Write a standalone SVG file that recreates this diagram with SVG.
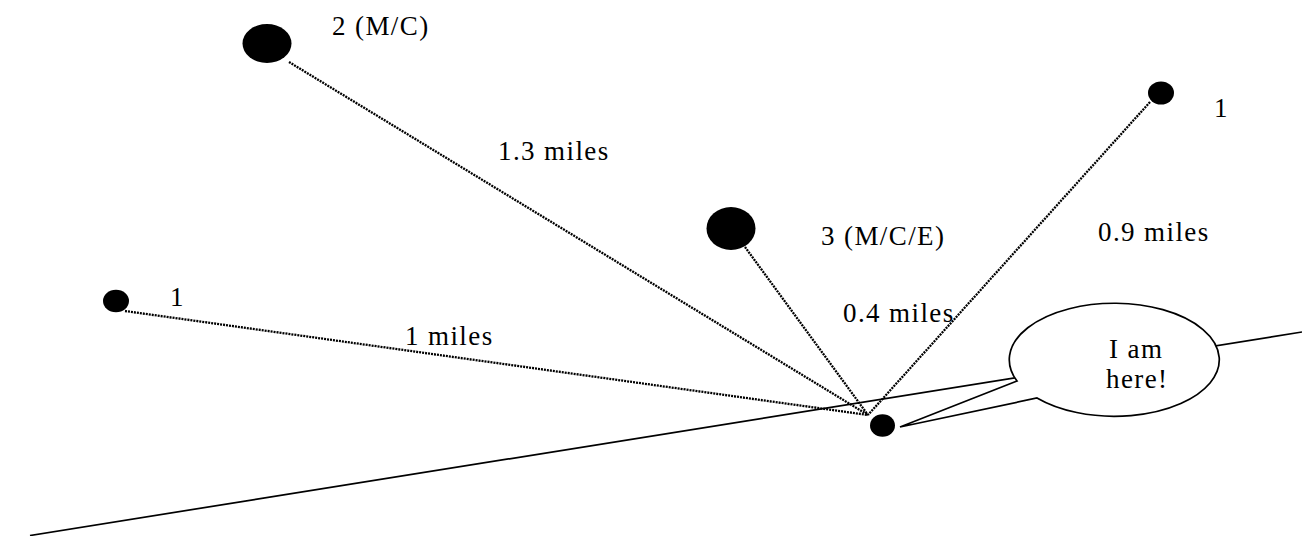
<svg xmlns="http://www.w3.org/2000/svg" width="1302" height="536" viewBox="0 0 1302 536">
<style>
text{font-family:"Liberation Serif","Times New Roman",serif;font-size:27px;letter-spacing:1.4px;fill:#000}
.dot{stroke:#000;stroke-width:2.3;stroke-dasharray:2 1;fill:none}
.solid{stroke:#000;stroke-width:1.7;fill:none}
.node{fill:#000}
</style>
<rect width="1302" height="536" fill="#fff"/>
<g id="connectors">
<line class="solid" x1="30" y1="535.5" x2="1302" y2="332"/>
<line class="dot" x1="289" y1="62" x2="868" y2="415"/>
<line class="dot" x1="745" y1="247" x2="868" y2="415"/>
<line class="dot" x1="125" y1="311" x2="868" y2="415"/>
<line class="dot" x1="1150" y1="102" x2="868" y2="415"/>
<text x="498" y="160">1.3 miles</text>
<text x="405" y="345">1 miles</text>
<text x="843" y="322">0.4 miles</text>
<text x="1098" y="241">0.9 miles</text>
</g>
<g id="node-2">
<ellipse class="node" cx="267" cy="43.5" rx="24.5" ry="19.5"/>
<text x="332" y="35">2 (M/C)</text>
</g>
<g id="node-3">
<ellipse class="node" cx="731" cy="228.5" rx="24.5" ry="21.5"/>
<text x="821" y="245">3 (M/C/E)</text>
</g>
<g id="node-left">
<ellipse class="node" cx="116" cy="301" rx="13" ry="11.3"/>
<text x="170" y="306">1</text>
</g>
<g id="node-topright">
<ellipse class="node" cx="1161" cy="93" rx="13" ry="11.5"/>
<text x="1214" y="117">1</text>
</g>
<g id="node-here">
<ellipse class="node" cx="882.5" cy="425.5" rx="12.5" ry="11.3"/>
</g>
<g id="callout">
<path d="M 1017 381 L 900 427 L 1037 398 A 105 56.5 0 1 0 1017 381 Z" fill="#fff" stroke="#000" stroke-width="1.7" stroke-linejoin="miter"/>
<text x="1109" y="358">I am</text>
<text x="1106" y="388">here!</text>
</g>
</svg>
